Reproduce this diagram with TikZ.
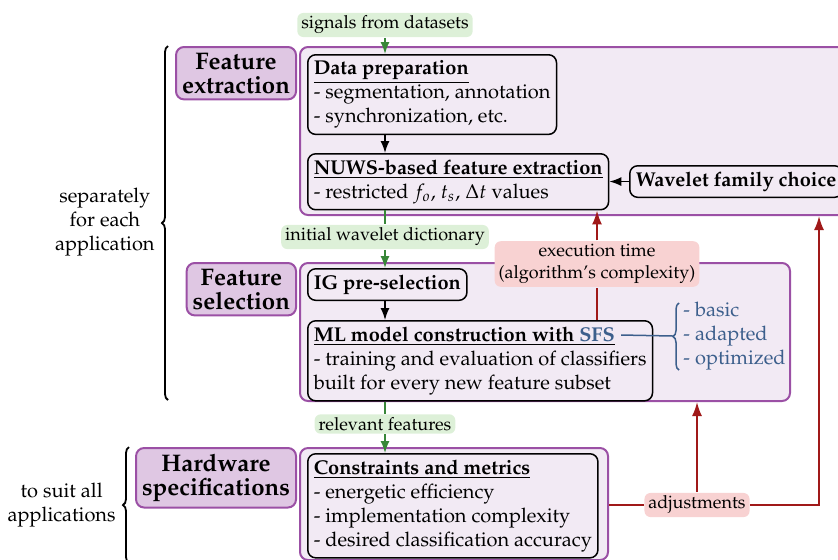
\documentclass[tikz,border=0pt]{standalone}
\usepackage[T1]{fontenc}
\usepackage{mathpazo}
\usetikzlibrary{arrows.meta,decorations.pathreplacing}

\definecolor{stagepurple}{RGB}{155,80,165}
\definecolor{stagefill}{RGB}{242,234,244}
\definecolor{titlefill}{RGB}{223,199,227}
\definecolor{flowgreen}{RGB}{56,135,56}
\definecolor{labelgreen}{RGB}{221,240,216}
\definecolor{loopred}{RGB}{160,25,25}
\definecolor{labelpink}{RGB}{248,210,210}
\definecolor{sfsblue}{RGB}{60,95,140}

\tikzset{every picture/.style={line width=0.75pt}}

\begin{document}
\begin{tikzpicture}[x=0.5pt,y=0.5pt,yscale=-1,xscale=1,
  stagebox/.style={draw=stagepurple,line width=1pt,fill=stagefill,rounded corners=4pt,anchor=north west,inner sep=0pt},
  stagetitle/.style={draw=stagepurple,line width=1pt,fill=titlefill,rounded corners=4pt,anchor=north east,inner sep=3pt,align=center,font=\large\bfseries},
  taskbox/.style={draw,fill=stagefill,rounded corners=4pt,anchor=north west,inner sep=3pt,align=left},
  greenlabel/.style={fill=labelgreen,rounded corners=3pt,inner xsep=2pt,inner ysep=1.5pt,font=\small},
  pinklabel/.style={fill=labelpink,rounded corners=3pt,inner xsep=2pt,inner ysep=1.5pt,font=\small,align=center},
  blackflow/.style={-{Latex[length=6pt,width=4.5pt]}},
  greenflow/.style={draw=flowgreen,-{Latex[length=6pt,width=4.5pt]}},
  redflow/.style={draw=loopred,line width=0.9pt,-{Latex[length=7pt,width=5pt]}},
  sidebrace/.style={decorate,decoration={brace,amplitude=3pt},line width=0.9pt}]
\useasboundingbox (0,0) rectangle (838,559);

%Stage boxes
\node [stagebox,minimum width=280pt,minimum height=84pt] (fexbox) at (299,46) {};
\node [stagebox,minimum width=245pt,minimum height=69pt] (fselbox) at (299,262) {};
\node [stagebox,minimum width=154pt,minimum height=56pt] (hwbox) at (299,447) {};
%Stage titles
\node [stagetitle] (fextitle) at (297,46) {Feature\\[-2pt]extraction};
\node [stagetitle] (fseltitle) at (297,262) {Feature\\[-2pt]selection};
\node [stagetitle] (hwtitle) at (297,447) {Hardware\\[-2pt]specifications};

%Task boxes
\node [taskbox] (dataprep) at (307,54) {\underline{\textbf{Data preparation}}\\- segmentation, annotation\\- synchronization, etc.};
\node [taskbox] (nuws) at (307,153) {\underline{\textbf{NUWS-based feature extraction}}\\- restricted $f_o$, $t_s$, $\Delta t$ values};
\node [taskbox] (wavelet) at (629,165) {\textbf{Wavelet family choice}};
\node [taskbox] (igsel) at (307,268) {\textbf{IG pre-selection}};
\node [taskbox] (mlmodel) at (307,320) {\underline{\textbf{ML model construction with \textcolor{sfsblue}{SFS}}}\\- training and evaluation of classifiers\\built for every new feature subset};
\node [taskbox] (constraints) at (307,453) {\underline{\textbf{Constraints and metrics}}\\- energetic efficiency\\- implementation complexity\\- desired classification accuracy};

%Flow labels
\node [greenlabel] (signals) at (385,25) {signals from datasets};
\node [greenlabel] (dictionary) at (385,237) {initial wavelet dictionary};
\node [greenlabel] (relevant) at (385,424) {relevant features};
\node [pinklabel] (exectime) at (597,264) {execution time\\(algorithm's complexity)};
\node [pinklabel] (adjust) at (697,505) {adjustments};
\coordinate (rightturn) at (819,505);

%Main flow
\draw [greenflow] (signals) -- (signals |- dataprep.north);
\draw [blackflow] (dataprep.south -| signals) -- (nuws.north -| signals);
\draw [blackflow] (wavelet.west) -- (wavelet.west -| nuws.east);
\draw [greenflow] (nuws.south -| dictionary) -- (dictionary) -- (dictionary |- igsel.north);
\draw [blackflow] (igsel.south -| dictionary) -- (mlmodel.north -| dictionary);
\draw [greenflow] (mlmodel.south -| relevant) -- (relevant) -- (relevant |- constraints.north);

%Feedback loops
\draw [redflow] (mlmodel.north -| exectime) -- (exectime) -- (exectime |- nuws.south);
\draw [loopred,line width=0.9pt] (hwbox.east |- adjust) -- (adjust);
\draw [redflow] (adjust) -- (rightturn) -- (rightturn |- fexbox.south);
\draw [redflow] (adjust) -- (adjust |- fselbox.south);

%SFS variants
\coordinate (sfsend) at (621,335);
\coordinate (sfstip) at (673,336);
\draw [sfsblue] (sfsend) -- (sfstip);
\draw [sfsblue,decorate,decoration={brace,amplitude=3pt}] (679,370) -- (679,303);
\node [anchor=west,align=left,text=sfsblue] (variants) at (676,336) {- basic\\- adapted\\- optimized};

%Side braces
\draw [sidebrace] (168,400) -- (168,46);
\node [anchor=east,align=center] (separately) at (162,222) {separately\\for each\\application};
\draw [sidebrace] (129,563) -- (129,447);
\node [anchor=east,align=center] (suitall) at (123,505) {to suit all\\applications};

\end{tikzpicture}
\end{document}
